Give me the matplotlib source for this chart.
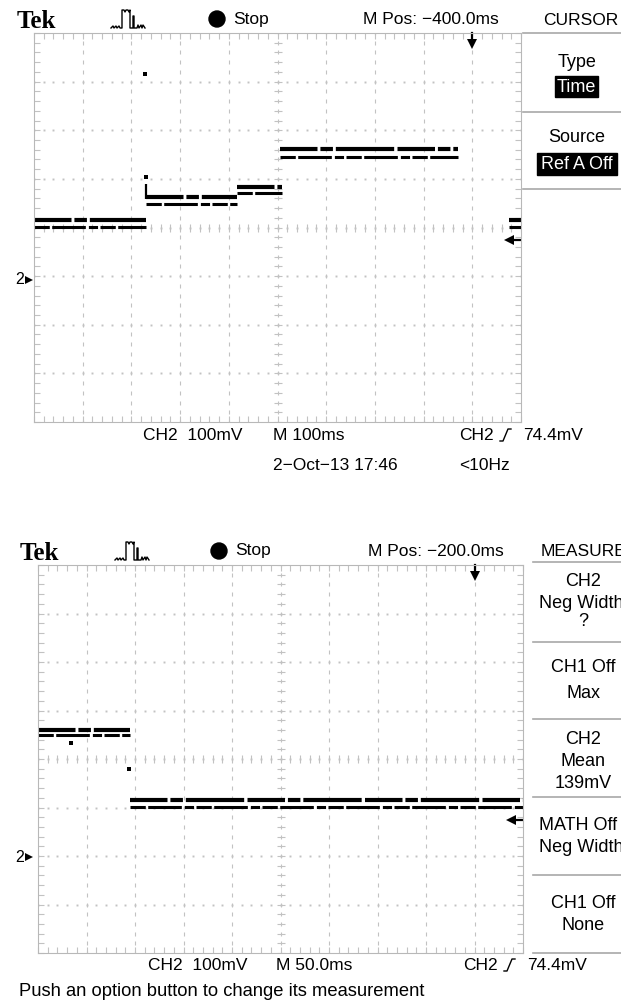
import matplotlib.pyplot as plt
from matplotlib.patches import Rectangle, Circle
import numpy as np

plt.rcParams['font.family'] = ['Liberation Sans', 'DejaVu Sans']

W, H = 621, 1006

# top screen: CH2 100mV/div, M 100ms/div
top_t0 = [0, 230, 417, 505, 975]
top_t1 = [230, 417, 510, 870, 1000]
top_hi = [115, 163, 183, 261, 115]
top_lo = [101, 148, 171, 245, 101]
top_spike = [158, 189]
top_dot_t = [228, 230]
top_dot_v = [416, 204]

# bottom screen: CH2 100mV/div, M 50ms/div
bot_t0 = [0, 95]
bot_t1 = [95, 500]
bot_hi = [259, 115]
bot_lo = [249, 101]
bot_dot_t = [34, 94]
bot_dot_v = [233, 179]

trig_mv = 74.4
gc = '#c2c2c2'
fs = 12.5

fig = plt.figure(figsize=(W / 100, H / 100), dpi=100)
ov = fig.add_axes([0, 0, 1, 1])
ov.set_xlim(0, W)
ov.set_ylim(H, 0)
ov.axis('off')


def screen(left, top, w, h, ms, mv, gnd, tpos):
    ax = fig.add_axes([left / W, 1 - (top + h) / H, w / W, h / H])
    ax.set_facecolor('none')
    x1 = 10 * ms
    y0, y1 = -gnd * mv, (8 - gnd) * mv
    ax.set_xlim(0, x1)
    ax.set_ylim(y0, y1)
    fx = np.arange(0, 10.01, 0.2) * ms
    fy = y0 + np.arange(0, 8.01, 0.2) * mv
    ax.set_xticks(fx)
    ax.set_yticks(fy)
    ax.tick_params(direction='in', length=4, width=0.8, color=gc, top=True, right=True,
                   labelbottom=False, labelleft=False)
    for s in ax.spines.values():
        s.set_color('#b8b8b8')
    for i in range(1, 10):
        ax.plot(np.full(fy.size, i * ms), fy, ls='none', marker='|', ms=2.5, mew=0.8, color=gc)
    for j in range(1, 8):
        ax.plot(fx, np.full(fx.size, y0 + j * mv), ls='none', marker='s', ms=1.4, mew=0, color=gc)
    # center cross ticks
    ax.plot(fx, np.full(fx.size, y0 + 4 * mv), ls='none', marker='|', ms=6, mew=0.8, color=gc)
    ax.plot(np.full(fy.size, 5 * ms), fy, ls='none', marker='_', ms=6, mew=0.8, color=gc)
    # trigger position arrow
    ax.plot([tpos, tpos], [y1, y1 - 0.16 * mv], color='k', lw=1.6, clip_on=False)
    ax.plot([tpos], [y1 - 0.22 * mv], marker='v', ms=7, mew=0, color='k', clip_on=False)
    # trigger level arrow
    ax.plot([9.78 * ms, 9.98 * ms], [trig_mv, trig_mv], color='k', lw=1.6)
    ax.plot([9.76 * ms], [trig_mv], marker='<', ms=7, mew=0, color='k')
    return ax


def traces(ax, t0, t1, hi, lo):
    ax.hlines(hi, t0, t1, colors='k', lw=3.0, linestyles=[(0, (9, 0.7, 3, 0.7, 14, 0.8))])
    ax.hlines(lo, t0, t1, colors='k', lw=2.2, linestyles=[(0, (5, 0.8, 11, 1, 3, 0.8))])


def header(y, xs, mpos, menu_title):
    ov.text(xs[0], y + 9, 'Tek', family='Liberation Serif', weight='bold', fontsize=18,
            va='baseline', ha='left')
    px = np.array([0, 2, 3, 5, 6, 8, 9, 11, 11, 13, 14, 15, 17, 18, 19, 19, 22, 22, 23, 23, 26,
                   27, 28, 30, 31, 32, 34])
    py = np.array([18, 16, 18, 16, 18, 16, 18, 18, 0, 0, 2, 0, 0, 2, 0, 18, 18, 6, 6, 18, 18,
                   15, 18, 15, 18, 15, 18])
    ov.plot(xs[1] + px, y - 9 + py, color='k', lw=1)
    ov.add_patch(Circle((xs[2], y), 8, color='k'))
    ov.text(xs[2] + 16, y, 'Stop', fontsize=fs, va='center', ha='left')
    ov.text(xs[3], y, mpos, fontsize=fs, va='center', ha='left')
    ov.text(xs[4], y + 1, menu_title, fontsize=fs, va='center', ha='left')


def foot(y, xs, tdiv):
    ov.text(xs[0], y, 'CH2  100mV', fontsize=fs, va='center', ha='left')
    ov.text(xs[1], y, tdiv, fontsize=fs, va='center', ha='left')
    ov.text(xs[2], y, 'CH2', fontsize=fs, va='center', ha='left')
    sx = xs[2] + 41
    ov.plot([sx, sx + 3, sx + 8, sx + 11], [y + 6, y + 6, y - 6, y - 6], color='k', lw=1)
    ov.text(xs[2] + 64, y, '%.1fmV' % trig_mv, fontsize=fs, va='center', ha='left')


def ground(y):
    ov.text(15, y, '2', fontsize=fs - 1, va='center', ha='left')
    ov.plot([29], [y], marker='>', ms=6, mew=0, color='k')


# ---- top screen ----
header(19, [17, 111, 217, 363, 543], 'M Pos: \u2212400.0ms', 'CURSOR')
ax1 = screen(34, 33, 487, 389, 100, 100, 3, 900)
traces(ax1, top_t0, top_t1, top_hi, top_lo)
ax1.vlines(top_t0[1], top_spike[0], top_spike[1], colors='k', lw=1.6)
ax1.plot(top_dot_t, top_dot_v, ls='none', marker='s', ms=2.5, mew=0, color='k')
ground(280)
foot(435, [143, 273, 459], 'M 100ms')
ov.text(273, 466, '2\u2212Oct\u221213 17:46', fontsize=fs, va='center', ha='left')
ov.text(459, 466, '<10Hz', fontsize=fs, va='center', ha='left')

for yy in [33, 112, 189]:
    ov.plot([523, W], [yy, yy], color='#a8a8a8', lw=1.2)
ov.text(577, 62, 'Type', fontsize=fs + 0.5, va='center', ha='center')
ov.add_patch(Rectangle((555, 76), 43, 21, color='k'))
ov.text(576.5, 87, 'Time', fontsize=fs + 0.5, va='center', ha='center', color='w')
ov.text(577, 137, 'Source', fontsize=fs + 0.5, va='center', ha='center')
ov.add_patch(Rectangle((537, 153), 80, 22, color='k'))
ov.text(577, 164, 'Ref A Off', fontsize=fs + 0.5, va='center', ha='center', color='w')

# ---- bottom screen ----
header(551, [20, 115, 219, 368, 541], 'M Pos: \u2212200.0ms', 'MEASURE')
ax2 = screen(38, 565, 485, 388, 50, 100, 2, 450)
traces(ax2, bot_t0, bot_t1, bot_hi, bot_lo)
ax2.plot(bot_dot_t, bot_dot_v, ls='none', marker='s', ms=2.5, mew=0, color='k')
ground(857)
foot(965, [148, 276, 463], 'M 50.0ms')
ov.text(19, 991, 'Push an option button to change its measurement', fontsize=13.2,
        va='center', ha='left')

for yy in [562, 642, 719, 797, 875, 953]:
    ov.plot([533, W], [yy, yy], color='#a8a8a8', lw=1.2)
menu = [('CH2', 582, 'c'), ('Neg Width', 603, 'l'), ('?', 622, 'c'),
        ('CH1 Off', 668, 'c'), ('Max', 693, 'c'),
        ('CH2', 740, 'c'), ('Mean', 761, 'c'), ('139mV', 783, 'c'),
        ('MATH Off', 825, 'l'), ('Neg Width', 847, 'l'),
        ('CH1 Off', 903, 'c'), ('None', 925, 'c')]
for s, yy, al in menu:
    if al == 'c':
        ov.text(583, yy, s, fontsize=fs + 0.5, va='center', ha='center')
    else:
        ov.text(539, yy, s, fontsize=fs + 0.5, va='center', ha='left')

fig.savefig('out.png', dpi=100)
